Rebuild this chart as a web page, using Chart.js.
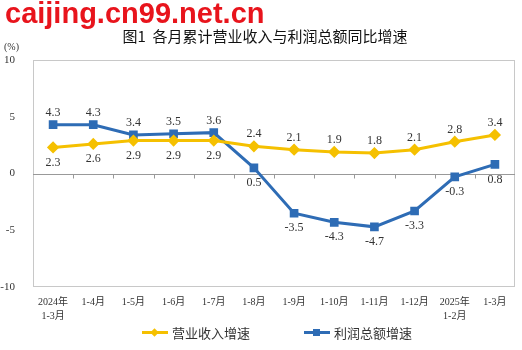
<!DOCTYPE html>
<html lang="zh-CN">
<head>
<meta charset="UTF-8">
<title>各月累计营业收入与利润总额同比增速</title>
<script src="https://cdn.jsdelivr.net/npm/chart.js"></script>
<style>
  body { margin: 0; background: #fff; }
  .wrap { position: relative; width: 522px; height: 350px; }
  #c { position: absolute; left: 0; top: 0; }
  .mark { position: absolute; left: 5px; top: -3px; font: bold 29px "Liberation Sans", Arial, sans-serif; color: #e8141c; white-space: nowrap; }
  .title { position: absolute; left: 0; width: 530px; top: 25px; text-align: center; font: 15px "Noto Sans CJK SC", sans-serif; color: #111; white-space: pre; }
  .unit { position: absolute; left: 4px; top: 41px; font: 10px "Liberation Serif", "Noto Sans CJK SC", serif; color: #333; }
  .legend { position: absolute; top: 323px; left: 0; width: 522px; height: 20px; font: 13px "Noto Sans CJK SC", serif; color: #333; }
  .item { position: absolute; top: 0; display: flex; align-items: center; }
  .ln { width: 26px; height: 3px; position: relative; margin-right: 4px; }
  .pt { position: absolute; left: 9px; top: -2px; width: 7px; height: 7px; }
</style>
</head>
<body>
<div class="wrap">
  <canvas id="c" width="522" height="350"></canvas>
  <div class="mark">caijing.cn99.net.cn</div>
  <div class="title">图1  各月累计营业收入与利润总额同比增速</div>
  <div class="unit">(%)</div>
  <div class="legend">
    <div class="item" style="left:142px"><span class="ln" style="background:#f5c000"><span class="pt" style="background:#f5c000;transform:rotate(45deg) scale(0.85)"></span></span>营业收入增速</div>
    <div class="item" style="left:304px"><span class="ln" style="background:#2e6cb5"><span class="pt" style="background:#2e6cb5"></span></span>利润总额增速</div>
  </div>
</div>
<script>
var months = [['2024年', '1-3月'], '1-4月', '1-5月', '1-6月', '1-7月', '1-8月', '1-9月', '1-10月', '1-11月', '1-12月', ['2025年', '1-2月'], '1-3月'];
var revenue = [2.3, 2.6, 2.9, 2.9, 2.9, 2.4, 2.1, 1.9, 1.8, 2.1, 2.8, 3.4];
var profit = [4.3, 4.3, 3.4, 3.5, 3.6, 0.5, -3.5, -4.3, -4.7, -3.3, -0.3, 0.8];
var yTicks = [-10, -5, 0, 5, 10];

var orange = '#f5c000';
var blue = '#2e6cb5';

// 数值标签: 放在远离另一条线的一侧
var labelPlugin = {
  id: 'labels',
  afterDatasetsDraw: function (chart) {
    var ctx = chart.ctx;
    ctx.save();
    ctx.font = '12px "Liberation Serif", serif';
    ctx.fillStyle = '#333';
    ctx.textAlign = 'center';
    ctx.textBaseline = 'middle';
    chart.data.datasets.forEach(function (ds, di) {
      var other = chart.data.datasets[1 - di].data;
      chart.getDatasetMeta(di).data.forEach(function (p, i) {
        var v = ds.data[i];
        var dy = v >= other[i] ? -12 : 15;
        ctx.fillText(v.toFixed(1), p.x, p.y + dy);
      });
    });
    ctx.restore();
  }
};

// 外框和零线上的刻度
var framePlugin = {
  id: 'frame',
  beforeDatasetsDraw: function (chart) {
    var a = chart.chartArea, ctx = chart.ctx;
    var x = chart.scales.x, y = chart.scales.y;
    ctx.save();
    ctx.strokeStyle = '#c8c8c8';
    ctx.lineWidth = 1;
    ctx.strokeRect(a.left + 0.5, a.top + 0.5, a.right - a.left - 1, a.bottom - a.top - 1);
    var y0 = Math.round(y.getPixelForValue(0)) + 0.5;
    ctx.strokeStyle = '#999';
    ctx.beginPath();
    ctx.moveTo(a.left, y0);
    ctx.lineTo(a.right, y0);
    for (var i = 1; i < months.length; i++) {
      var px = Math.round((x.getPixelForValue(i - 1) + x.getPixelForValue(i)) / 2) + 0.5;
      ctx.moveTo(px, y0);
      ctx.lineTo(px, y0 + 4);
    }
    ctx.stroke();
    ctx.restore();
  }
};

new Chart(document.getElementById('c'), {
  type: 'line',
  data: {
    labels: months,
    datasets: [{
      label: '营业收入增速',
      data: revenue,
      borderColor: orange,
      backgroundColor: orange,
      borderWidth: 3,
      pointStyle: 'rectRot',
      pointRadius: 4,
      pointHoverRadius: 4
    }, {
      label: '利润总额增速',
      data: profit,
      borderColor: blue,
      backgroundColor: blue,
      borderWidth: 3,
      pointStyle: 'rect',
      pointRadius: 4,
      pointHoverRadius: 4
    }]
  },
  options: {
    responsive: false,
    animation: false,
    layout: { padding: { top: 60, right: 7, left: 0, bottom: 23 } },
    plugins: { legend: { display: false }, tooltip: { enabled: false } },
    scales: {
      x: {
        offset: true,
        grid: { display: false },
        border: { display: false },
        ticks: {
          color: '#333',
          padding: 0,
          maxRotation: 0,
          autoSkip: false,
          font: { size: 10, family: '"Liberation Serif", "Noto Sans CJK SC", serif', lineHeight: 1.4 }
        },
        afterFit: function (s) { s.height = 40; }
      },
      y: {
        min: -10,
        max: 10,
        afterBuildTicks: function (s) { s.ticks = yTicks.map(function (v) { return { value: v }; }); },
        grid: { display: false },
        border: { display: false },
        ticks: {
          color: '#333',
          padding: 10,
          font: { size: 11, family: '"Liberation Serif", serif' }
        },
        afterFit: function (s) { s.width = 33; }
      }
    }
  },
  plugins: [framePlugin, labelPlugin]
});
</script>
</body>
</html>
